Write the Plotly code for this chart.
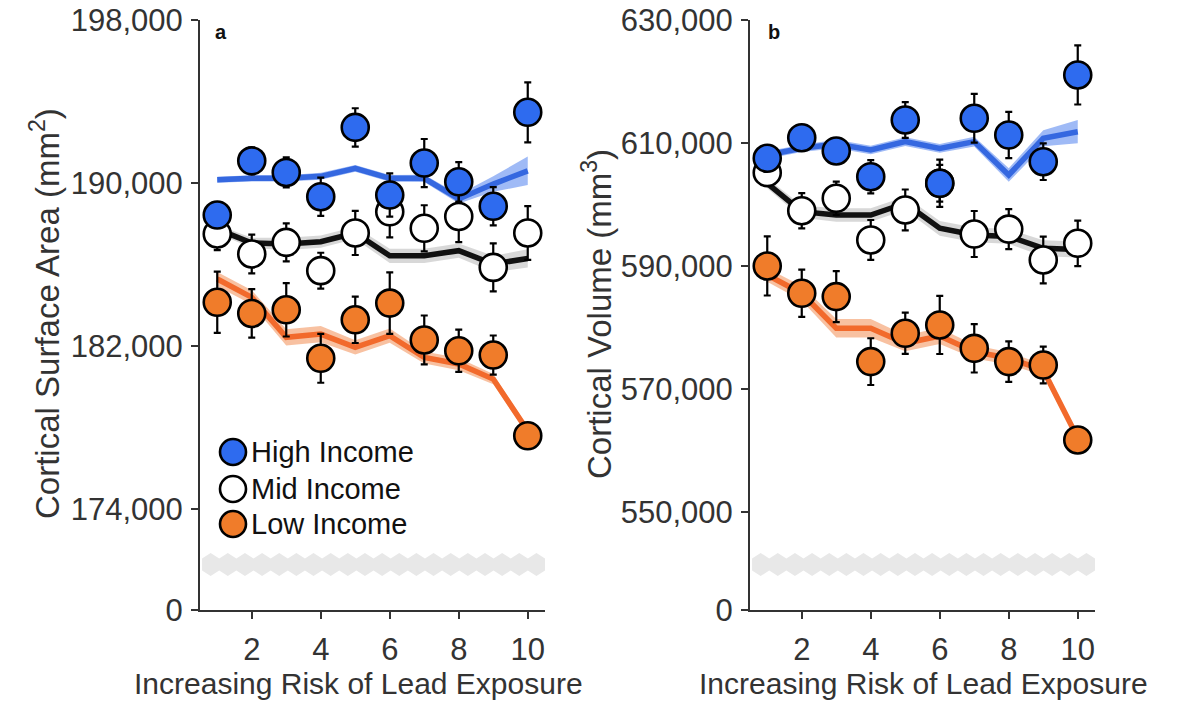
import plotly.graph_objects as go

# ---------------- data ----------------
risk = [1, 2, 3, 4, 5, 6, 7, 8, 9, 10]
x_ticks = [2, 4, 6, 8, 10]

series_names = ["Low Income", "Mid Income", "High Income"]
marker_fill = ["#f07c2a", "#ffffff", "#2e6bef"]
fit_color = ["#f26a2c", "#111111", "#3568e0"]
band_color = ["rgba(245,160,110,0.65)", "rgba(190,190,190,0.6)", "rgba(95,140,240,0.6)"]

# Panel a: cortical surface area (mm^2)
sa_low = [184150, 183600, 183780, 181400, 183290, 184110, 182300, 181770, 181560, 177600]
sa_low_err = [1500, 1190, 1310, 1200, 1140, 1510, 1200, 1040, 960, 500]
sa_mid = [187500, 186520, 187090, 185700, 187550, 188590, 187780, 188360, 185860, 187550]
sa_mid_err = [790, 950, 930, 880, 1080, 1260, 1130, 1260, 1180, 1320]
sa_high = [188430, 191090, 190520, 189330, 192730, 189410, 190980, 190060, 188860, 193470]
sa_high_err = [600, 650, 740, 940, 940, 1060, 1180, 970, 940, 1470]

sa_low_fit = [185290, 184390, 182430, 182590, 181940, 182510, 181440, 181120, 180380, 177840]
sa_low_band = [350, 350, 400, 400, 350, 350, 300, 300, 250, 200]
sa_mid_fit = [187740, 187060, 187010, 187120, 187550, 186430, 186430, 186680, 186030, 186300]
sa_mid_band = [200, 250, 300, 300, 300, 350, 350, 350, 400, 450]
sa_high_fit = [190160, 190230, 190230, 190330, 190720, 190230, 190230, 189220, 189950, 190600]
sa_high_band = [150, 150, 150, 170, 170, 170, 180, 220, 380, 700]

# Panel b: cortical volume (mm^3)
cv_low = [590000, 585560, 585020, 574450, 579060, 580410, 576610, 574450, 573900, 561710]
cv_low_err = [4800, 3850, 4150, 3800, 3360, 4720, 3930, 3300, 2980, 1500]
cv_mid = [605180, 598990, 601010, 594230, 599110, 603450, 595200, 596000, 590980, 593690]
cv_mid_err = [1500, 2870, 2700, 3250, 3330, 3000, 3740, 3250, 3800, 3700]
cv_high = [607510, 610860, 608700, 604520, 613740, 603450, 614020, 611300, 606960, 621060]
cv_high_err = [1800, 1800, 1900, 2700, 2900, 3850, 3960, 3770, 2980, 4800]

cv_low_fit = [588540, 585560, 579870, 579870, 577430, 578620, 576070, 574990, 573100, 562030]
cv_low_band = [1100, 1200, 1500, 1500, 1300, 1300, 1100, 1000, 900, 700]
cv_mid_fit = [603450, 598830, 598290, 598290, 600200, 596130, 595040, 594800, 592880, 592700]
cv_mid_band = [800, 1000, 1100, 1100, 1100, 1200, 1200, 1200, 1300, 1300]
cv_high_fit = [608050, 609130, 609840, 608860, 610220, 609130, 610220, 604800, 610760, 611840]
cv_high_band = [600, 600, 700, 700, 700, 700, 800, 1100, 1300, 1900]

# y ticks (broken axis: the lowest tick is labelled 0)
sa_ticks = [174000, 182000, 190000, 198000]
cv_ticks = [550000, 570000, 590000, 610000, 630000]
sa_axis_floor = 169050
cv_axis_floor = 534060

FONT = "Liberation Sans, Arial, sans-serif"
TXT = "#333333"

fig = go.Figure()


def add_panel(xa, ya, points, errs, fits, bands):
    # confidence ribbons and fitted lines first
    for i in range(3):
        upper = [f + b for f, b in zip(fits[i], bands[i])]
        lower = [f - b for f, b in zip(fits[i], bands[i])]
        fig.add_trace(go.Scatter(
            x=risk + risk[::-1], y=upper + lower[::-1], xaxis=xa, yaxis=ya,
            fill="toself", fillcolor=band_color[i], line=dict(width=0),
            mode="lines", hoverinfo="skip", showlegend=False))
        fig.add_trace(go.Scatter(
            x=risk, y=fits[i], xaxis=xa, yaxis=ya, mode="lines",
            line=dict(color=fit_color[i], width=5.5), showlegend=False))
    # group means with error bars on top
    for i in range(3):
        fig.add_trace(go.Scatter(
            x=risk, y=points[i], xaxis=xa, yaxis=ya, mode="markers",
            name=series_names[i], showlegend=False,
            error_y=dict(type="data", array=errs[i], color="#000000",
                         thickness=2.2, width=3.5),
            marker=dict(size=27, color=marker_fill[i],
                        line=dict(color="#000000", width=2.6))))


add_panel("x", "y",
          [sa_low, sa_mid, sa_high], [sa_low_err, sa_mid_err, sa_high_err],
          [sa_low_fit, sa_mid_fit, sa_high_fit], [sa_low_band, sa_mid_band, sa_high_band])
add_panel("x2", "y2",
          [cv_low, cv_mid, cv_high], [cv_low_err, cv_mid_err, cv_high_err],
          [cv_low_fit, cv_mid_fit, cv_high_fit], [cv_low_band, cv_mid_band, cv_high_band])

dom_y = [1 - 610 / 708, 1 - 20 / 708]
dom_xa = [200 / 1184, 545 / 1184]
dom_xb = [750 / 1184, 1095 / 1184]

xaxis_common = dict(
    range=[0.5, 10.5], tickvals=x_ticks, ticks="outside", ticklen=7, tickwidth=2,
    tickcolor=TXT, showline=True, linecolor=TXT, linewidth=2, showgrid=False,
    zeroline=False, automargin=False, tickfont=dict(family=FONT, size=31, color=TXT),
    ticklabelstandoff=4)


def yaxis_cfg(ticks, floor):
    return dict(
        range=[floor, ticks[-1]], tickvals=[floor] + ticks,
        ticktext=["0"] + [f"{t:,}" for t in ticks],
        ticks="outside", ticklen=7, tickwidth=2, tickcolor=TXT,
        showline=True, linecolor=TXT, linewidth=2, showgrid=False, zeroline=False,
        automargin=False, tickfont=dict(family=FONT, size=31, color=TXT),
        ticklabelstandoff=2)


fig.update_layout(
    template="none",
    width=1184, height=708, margin=dict(l=0, r=0, t=0, b=0, autoexpand=False),
    paper_bgcolor="white", plot_bgcolor="white", showlegend=False,
    xaxis=dict(domain=dom_xa, anchor="y", **xaxis_common),
    xaxis2=dict(domain=dom_xb, anchor="y2", **xaxis_common),
    yaxis=dict(domain=dom_y, anchor="x", **yaxis_cfg(sa_ticks, sa_axis_floor)),
    yaxis2=dict(domain=dom_y, anchor="x2", **yaxis_cfg(cv_ticks, cv_axis_floor)),
)


# axis-break ribbon (zig-zag) near the bottom of each panel
def zigzag_path(periods=20, x0=0.006, x1=1.0, yc=0.0771, outer=0.0195, inner=0.0102):
    step = (x1 - x0) / periods
    top, bot = [], []
    for k in range(periods + 1):
        xv = x0 + k * step
        top.append((xv, yc + inner))
        bot.append((xv, yc - inner))
        if k < periods:
            top.append((xv + step / 2, yc + outer))
            bot.append((xv + step / 2, yc - outer))
    pts = top + bot[::-1]
    return "M " + " L ".join(f"{a:.5f},{b:.5f}" for a, b in pts) + " Z"


for xr, yr in (("x domain", "y domain"), ("x2 domain", "y2 domain")):
    fig.add_shape(type="path", path=zigzag_path(), xref=xr, yref=yr,
                  fillcolor="#e8e8e8", line=dict(width=0), layer="below")

# titles
ann = []
for xc, label in ((45, "Cortical Surface Area (mm<sup>2</sup>)"), (597, "Cortical Volume (mm<sup>3</sup>)")):
    ann.append(dict(text=label, x=xc / 1184, y=1 - 314 / 708, xref="paper", yref="paper",
                    textangle=-90, showarrow=False, xanchor="center", yanchor="middle",
                    font=dict(family=FONT, size=33, color=TXT)))
for xc in (358, 923):
    ann.append(dict(text="Increasing Risk of Lead Exposure", x=xc / 1184, y=1 - 683 / 708,
                    xref="paper", yref="paper", showarrow=False, xanchor="center",
                    yanchor="middle", font=dict(family=FONT, size=30, color=TXT)))
for xc, lab in ((221, "a"), (774, "b")):
    ann.append(dict(text=f"<b>{lab}</b>", x=xc / 1184, y=1 - 32 / 708, xref="paper",
                    yref="paper", showarrow=False, xanchor="center", yanchor="middle",
                    font=dict(family=FONT, size=20, color="#111111")))

# legend (drawn as circles + labels so the symbols keep the marker size)
legend_rows = [(2, 452), (1, 489), (0, 524)]
for idx, ypx in legend_rows:
    fig.add_shape(type="circle", xref="paper", yref="paper",
                  xsizemode="pixel", ysizemode="pixel",
                  xanchor=233 / 1184, yanchor=1 - ypx / 708,
                  x0=-13, x1=13, y0=-13, y1=13,
                  fillcolor=marker_fill[idx], line=dict(color="#000000", width=2.6))
    ann.append(dict(text=series_names[idx], x=249 / 1184, y=1 - ypx / 708,
                    xref="paper", yref="paper", showarrow=False, xanchor="left",
                    yanchor="middle", font=dict(family=FONT, size=29, color="#111111")))

fig.update_layout(annotations=ann)
fig.write_html("out.html")
